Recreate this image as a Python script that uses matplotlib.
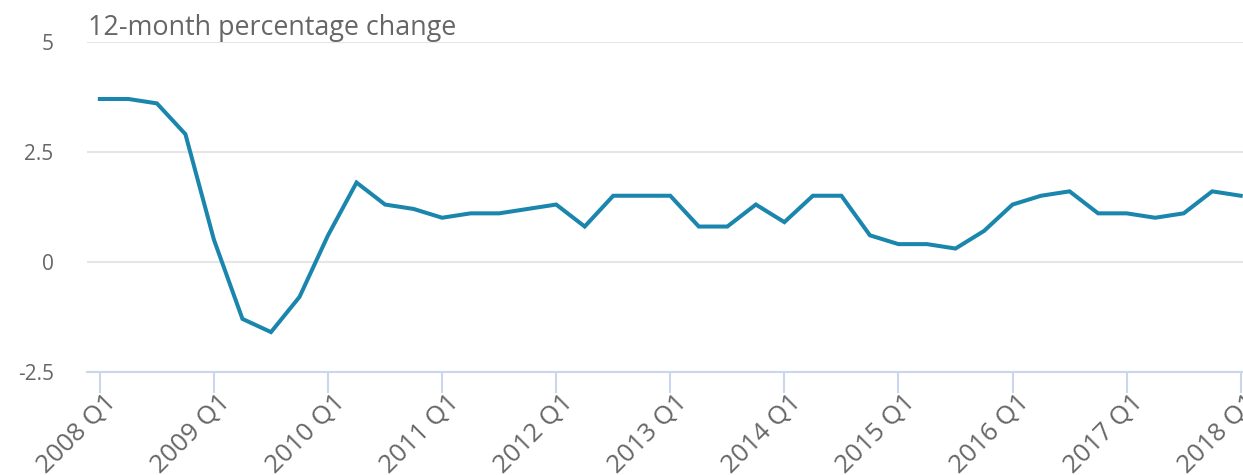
import numpy as np
import matplotlib.pyplot as plt
from matplotlib.transforms import ScaledTranslation

plt.rcParams['font.family'] = ['Open Sans', 'DejaVu Sans']

# quarterly 12-month percentage change, 2008 Q1 .. 2018 Q1
years = list(range(2008, 2019))
quarters = [f"{y} Q{q}" for y in years for q in range(1, 5)][:41]
values = [3.7, 3.7, 3.6, 2.9,
          0.5, -1.3, -1.6, -0.8,
          0.6, 1.8, 1.3, 1.2,
          1.0, 1.1, 1.1, 1.2,
          1.3, 0.8, 1.5, 1.5,
          1.5, 0.8, 0.8, 1.3,
          0.9, 1.5, 1.5, 0.6,
          0.4, 0.4, 0.3, 0.7,
          1.3, 1.5, 1.6, 1.1,
          1.1, 1.0, 1.1, 1.6,
          1.5]
yticks = [-2.5, 0, 2.5, 5]
ytick_labels = ['-2.5', '0', '2.5', '5']

grey = '#666666'

fig = plt.figure(figsize=(12.43, 4.75), dpi=100)
ax = fig.add_axes([0.070, 0.2175, 0.930, 0.6945])

x = np.arange(len(values))
ax.plot(x, values, color='#1b86ad', lw=2.9, solid_joinstyle='miter')

ax.set_xlim(-0.45, 40.08)
ax.set_ylim(-2.5, 5)

ax.set_yticks(yticks)
ax.set_yticklabels(ytick_labels)
ax.yaxis.grid(True, color='#e6e6e6', lw=1.5)
ax.set_axisbelow(True)
ax.tick_params(axis='y', length=0, pad=24, labelsize=15, labelcolor=grey)

xt = x[::4]
ax.set_xticks(xt)
ax.set_xticklabels([quarters[i] for i in xt], rotation=45, ha='right',
                   va='top', rotation_mode='anchor')
ax.tick_params(axis='x', length=15, width=1.5, color='#ccd6eb', pad=0,
               labelsize=18.5, labelcolor=grey)
shift = ScaledTranslation(3 / 72, 2 / 72, fig.dpi_scale_trans)
for lab in ax.get_xticklabels():
    lab.set_transform(lab.get_transform() + shift)

for s in ['top', 'right', 'left']:
    ax.spines[s].set_visible(False)
ax.spines['bottom'].set_color('#ccd6eb')
ax.spines['bottom'].set_linewidth(1.5)

fig.text(88 / 1243, 1 - 35 / 475, '12-month percentage change',
         fontsize=19.4, color=grey, ha='left', va='baseline')

fig.savefig('out.png', dpi=100)
